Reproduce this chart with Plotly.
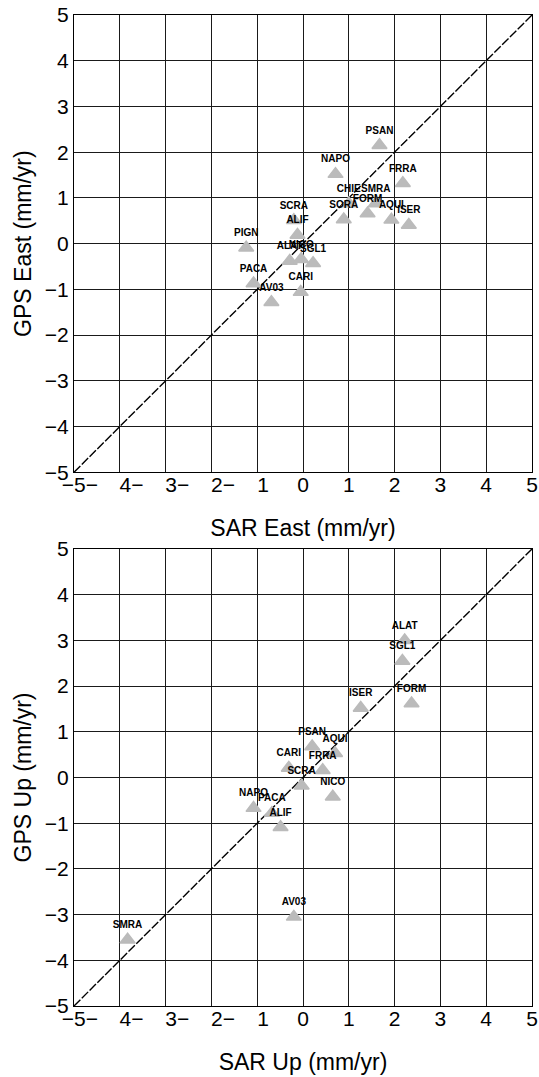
import plotly.graph_objects as go

# ---- data: top panel (East) ----
east_names = ["PSAN", "NAPO", "FRRA", "CHIE", "SMRA", "FORM", "SORA", "AQUI", "ISER",
              "SCRA", "ALIF", "PIGN", "ALAT", "NICO", "SGL1", "PACA", "AV03", "CARI"]
east_sar = [1.67, 0.71, 2.18, 1.00, 1.59, 1.41, 0.89, 1.93, 2.31,
            -0.20, -0.12, -1.24, -0.29, -0.04, 0.22, -1.08, -0.69, -0.05]
east_gps = [2.15, 1.52, 1.32, 0.88, 0.88, 0.66, 0.53, 0.52, 0.41,
            0.51, 0.19, -0.09, -0.38, -0.34, -0.43, -0.87, -1.28, -1.06]

# ---- data: bottom panel (Up) ----
up_names = ["ALAT", "SGL1", "FORM", "ISER", "PSAN", "AQUI", "CARI", "FRRA", "SCRA",
            "NICO", "NAPO", "PACA", "ALIF", "AV03", "SMRA"]
up_sar = [2.22, 2.17, 2.37, 1.26, 0.20, 0.70, -0.31, 0.43, -0.03,
          0.65, -1.08, -0.68, -0.49, -0.20, -3.83]
up_gps = [3.00, 2.55, 1.62, 1.52, 0.68, 0.53, 0.21, 0.16, -0.18,
          -0.42, -0.67, -0.78, -1.09, -3.05, -3.55]

# 1:1 reference line
ref_line = [-5, 5]

tick_vals = [-5, -4, -3, -2, -1, 0, 1, 2, 3, 4, 5]
NB = "\u00a0"
x_tick_text = [NB * 2 + "\u22125\u2212", NB * 4 + "4\u2212", NB * 4 + "3\u2212",
               NB * 4 + "2\u2212", NB * 2 + "1", "0", "1", "2", "3", "4", "5"]
y_tick_text = ["\u22125", "\u22124", "\u22123", "\u22122", "\u22121", "0", "1", "2", "3", "4", "5"]

FONT = "Liberation Sans, Arial, Helvetica, sans-serif"
MARKER_COLOR = "#BBBBBB"

fig = go.Figure()


def add_panel(xs, ys, names, xa, ya):
    fig.add_trace(go.Scatter(
        x=ref_line, y=ref_line, mode="lines", xaxis=xa, yaxis=ya,
        line=dict(color="black", width=1.4, dash="9px,2px"),
        hoverinfo="skip", showlegend=False))
    fig.add_trace(go.Scatter(
        x=xs, y=ys, text=names, mode="markers+text", xaxis=xa, yaxis=ya,
        marker=dict(symbol="triangle-up", size=13, color=MARKER_COLOR,
                    line=dict(color=MARKER_COLOR, width=1.5)),
        textposition="top center",
        textfont=dict(family=FONT, size=10, color="black", weight="bold"),
        cliponaxis=False, showlegend=False))


add_panel(east_sar, east_gps, east_names, "x", "y")
add_panel(up_sar, up_gps, up_names, "x2", "y2")

axis_common = dict(
    range=[-5, 5], tickmode="array", tickvals=tick_vals, tickangle=0,
    showgrid=True, gridcolor="#1a1a1a", gridwidth=1,
    zeroline=False, showline=True, linecolor="black", linewidth=1, mirror=True,
    ticks="", tickfont=dict(family=FONT, size=21, color="black"),
    title_font=dict(family=FONT, size=23, color="black"),
    automargin=False,
)

fig.update_layout(
    width=539, height=1077,
    paper_bgcolor="white", plot_bgcolor="white",
    margin=dict(l=74, r=7, t=15, b=71),
    xaxis=dict(axis_common, domain=[0, 1], anchor="y", ticktext=x_tick_text,
               ticklabelstandoff=-6,
               title=dict(text="SAR East (mm/yr)", standoff=24)),
    yaxis=dict(axis_common, domain=[0.5386, 1], anchor="x", ticktext=y_tick_text,
               title=dict(text="GPS East (mm/yr)", standoff=6)),
    xaxis2=dict(axis_common, domain=[0, 1], anchor="y2", ticktext=x_tick_text,
                ticklabelstandoff=-6,
                title=dict(text="SAR Up (mm/yr)", standoff=24)),
    yaxis2=dict(axis_common, domain=[0, 0.4612], anchor="x2", ticktext=y_tick_text,
                title=dict(text="GPS Up (mm/yr)", standoff=6)),
)

fig.write_html("out.html")
